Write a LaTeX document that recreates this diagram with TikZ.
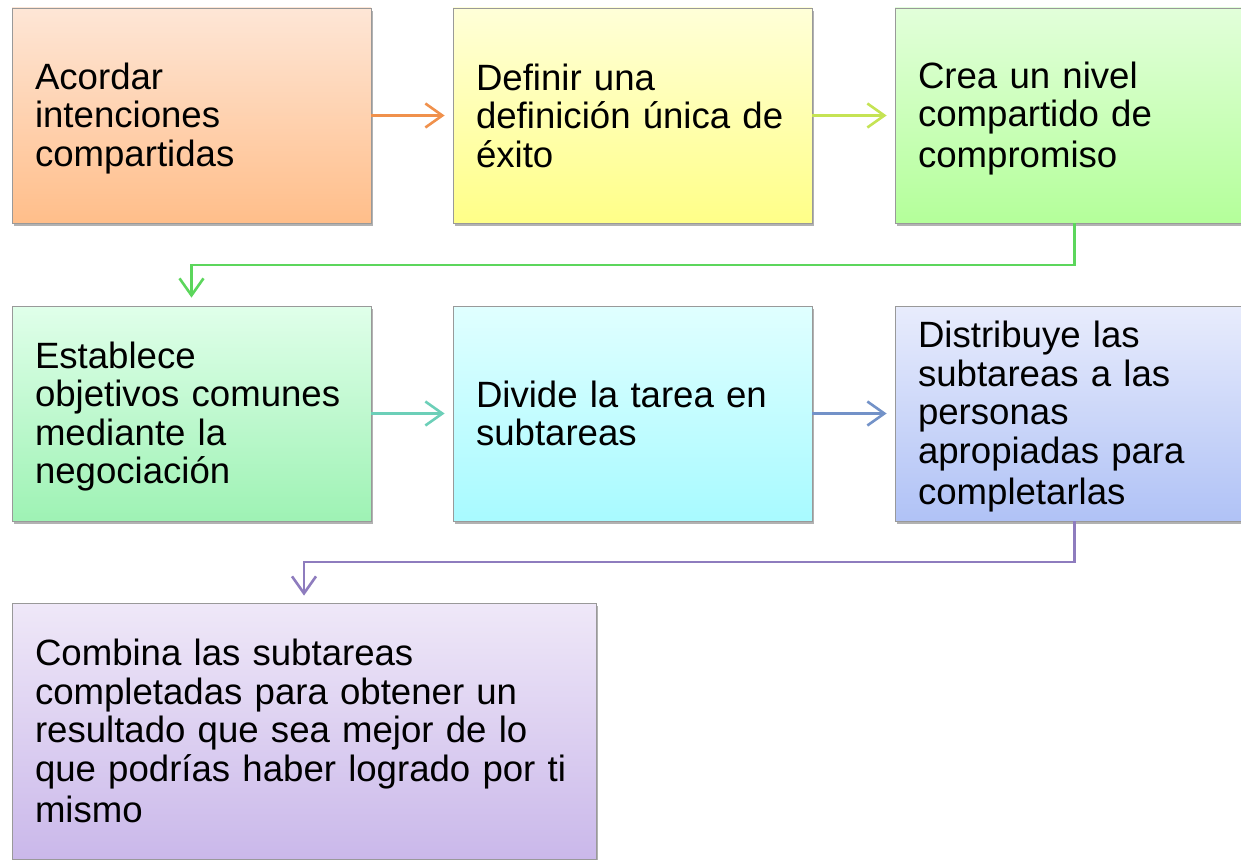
\documentclass[tikz,border=0pt]{standalone}
\usepackage{fontspec}
\setmainfont{Liberation Sans}
\usetikzlibrary{arrows.meta,shadows}
\definecolor{t1}{HTML}{FEE6D6}\definecolor{b1}{HTML}{FFBE8A}
\definecolor{t2}{HTML}{FFFFD8}\definecolor{b2}{HTML}{FFFF88}
\definecolor{t3}{HTML}{E2FFDA}\definecolor{b3}{HTML}{B4FF9A}
\definecolor{t4}{HTML}{E0FFEA}\definecolor{b4}{HTML}{9EF2B4}
\definecolor{t5}{HTML}{E0FFFF}\definecolor{b5}{HTML}{A8FAFF}
\definecolor{t6}{HTML}{E8ECFC}\definecolor{b6}{HTML}{B0C2F6}
\definecolor{t7}{HTML}{EFE8F8}\definecolor{b7}{HTML}{CAB8EA}
\definecolor{aor}{HTML}{F0914C}
\definecolor{alime}{HTML}{C5E354}
\definecolor{agreen}{HTML}{5CD65C}
\definecolor{ateal}{HTML}{6CCFB8}
\definecolor{ablue}{HTML}{7392C8}
\definecolor{apurple}{HTML}{8E7CBE}
\newcommand\boxstrut{\rule[-6.25pt]{0pt}{38.5pt}}
\tikzset{
  box/.style={draw=gray!80, line width=0.8pt, rectangle, minimum width=359pt, minimum height=215pt,
    text width=313pt, inner xsep=23pt, inner ysep=0pt, align=left,
    font=\fontsize{36.6pt}{38.5pt}\selectfont,
    execute at begin node=\boxstrut, execute at end node=\boxstrut,
    drop shadow={shadow xshift=1.5pt, shadow yshift=-3pt, opacity=0.3, fill=black}},
  arr/.style={line width=2.6pt, -{Straight Barb[length=17pt,width=24pt,line width=2.6pt]}}
}
\begin{document}
\begin{tikzpicture}[x=1pt,y=-1pt]
\useasboundingbox (0,0) rectangle (1241,859);
\clip (0,0) rectangle (1241,859);
\node[box, top color=t1, bottom color=b1] (n1) at (191.5,115.5) {Acordar\\intenciones\\compartidas};
\node[box, top color=t2, bottom color=b2] (n2) at (632.5,115.5) {Definir una\\definición única de\\éxito};
\node[box, top color=t3, bottom color=b3] (n3) at (1074.5,115.5) {Crea un nivel\\compartido de\\compromiso};
\node[box, top color=t4, bottom color=b4] (n4) at (191.5,413.5) {Establece\\objetivos comunes\\mediante la\\negociación};
\node[box, top color=t5, bottom color=b5] (n5) at (632.5,413.5) {Divide la tarea en\\subtareas};
\node[box, top color=t6, bottom color=b6] (n6) at (1074.5,413.5) {Distribuye las\\subtareas a las\\personas\\apropiadas para\\completarlas};
\node[box, top color=t7, bottom color=b7, minimum width=584pt, text width=538pt, minimum height=256pt] (n7) at (304,731) {Combina las subtareas\\completadas para obtener un\\resultado que sea mejor de lo\\que podrías haber logrado por ti\\mismo};
\draw[arr, aor, shorten >=8pt] (n1.east) -- (n2.west);
\draw[arr, alime, shorten >=8pt] (n2.east) -- (n3.west);
\coordinate (g1) at (1074.5,265);
\draw[arr, agreen, shorten >=8pt] (n3.south) -- (g1) -| (n4.north);
\draw[arr, ateal, shorten >=8pt] (n4.east) -- (n5.west);
\draw[arr, ablue, shorten >=8pt] (n5.east) -- (n6.west);
\coordinate (g2) at (1074.5,562);
\draw[arr, apurple, shorten >=7pt] (n6.south) -- (g2) -| (n7.north);
\end{tikzpicture}
\end{document}
